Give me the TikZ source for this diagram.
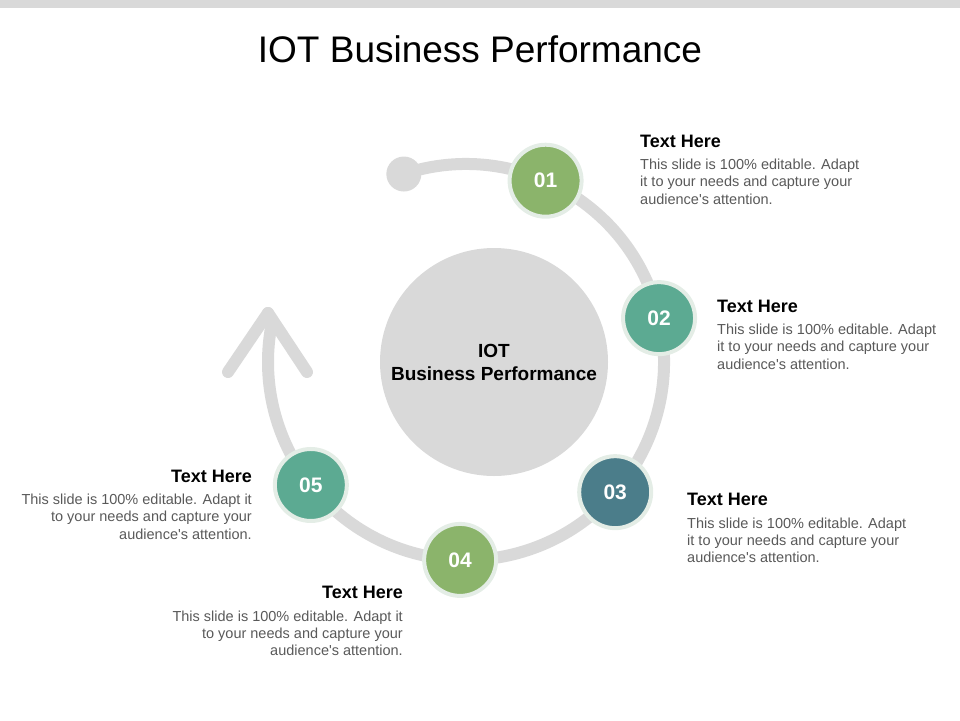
\documentclass[tikz,border=0pt]{standalone}
\usepackage{fontspec}
\setmainfont{Liberation Sans}
\usetikzlibrary{positioning}
\definecolor{ringgray}{HTML}{D9D9D9}
\definecolor{leafgreen}{HTML}{8BB46B}
\definecolor{seateal}{HTML}{5CAA92}
\definecolor{slateteal}{HTML}{4B7D8A}
\definecolor{rimcol}{HTML}{E4EDE6}
\definecolor{bodygray}{HTML}{595959}
\tikzset{
  ring/.style={draw=ringgray, line width=12pt, line cap=round, line join=round},
  stepnode/.style={circle, minimum size=72pt, inner sep=0pt, draw=rimcol, line width=4pt,
    text=white, font=\bfseries\fontsize{21}{25}\selectfont},
  headtext/.style={inner sep=0pt, font=\bfseries\fontsize{18}{22}\selectfont},
  bodytext/.style={inner sep=0pt, text=bodygray, font=\fontsize{14.5}{17.2}\selectfont}
}
\newcommand{\blurbL}{This slide is 100\% editable. Adapt\\it to your needs and capture your\\audience\textquotesingle s attention.}
\newcommand{\blurbR}{This slide is 100\% editable. Adapt it\\to your needs and capture your\\audience\textquotesingle s attention.}
\begin{document}
\begin{tikzpicture}[x=1pt,y=1pt]
\useasboundingbox (0,0) rectangle (960,-720);
\fill[ringgray] (0,0) rectangle (960,-8);
\node[anchor=base, font=\fontsize{37}{44}\selectfont] (title) at (480,-62) {IOT Business Performance};
% hub and ring
\coordinate (hub) at (466,-362);
\node[circle, fill=ringgray, minimum size=228pt, align=center, font=\bfseries\fontsize{19}{23}\selectfont]
  (core) at (494,-362) {IOT\\Business Performance};
\node[circle, fill=ringgray, minimum size=35pt, inner sep=0pt] (start) at ([shift={(108.3:198)}]hub) {};
\coordinate (tip) at (268,-313);
\coordinate (armL) at ([shift={(-40,-59)}]tip);
\coordinate (armR) at ([shift={(39,-59)}]tip);
\draw[ring] (start.center) arc[start angle=108.3, end angle=-190, radius=198pt] -- (tip);
\draw[ring] (armL) -- (tip) -- (armR);
% steps
\node[stepnode, fill=leafgreen] (s1) at ([shift={(66.3:198)}]hub) {01};
\node[stepnode, fill=seateal] (s2) at ([shift={(12.8:198)}]hub) {02};
\node[stepnode, fill=slateteal] (s3) at ([shift={(-41.1:198)}]hub) {03};
\node[stepnode, fill=leafgreen] (s4) at ([shift={(-91.7:198)}]hub) {04};
\node[stepnode, fill=seateal] (s5) at ([shift={(-141.6:198)}]hub) {05};
% texts
\node[headtext, anchor=base west] (h1) at (640,-147) {Text Here};
\node[bodytext, align=left, below right=11.7pt and 0pt of h1.south west] (b1) {\blurbL};
\node[headtext, anchor=base west] (h2) at (717,-312) {Text Here};
\node[bodytext, align=left, below right=11.7pt and 0pt of h2.south west] (b2) {\blurbL};
\node[headtext, anchor=base west] (h3) at (687,-505.5) {Text Here};
\node[bodytext, align=left, below right=11.7pt and 0pt of h3.south west] (b3) {\blurbL};
\node[headtext, anchor=base east] (h4) at (403,-598.5) {Text Here};
\node[bodytext, align=right, below left=11.7pt and 0pt of h4.south east] (b4) {\blurbR};
\node[headtext, anchor=base east] (h5) at (252,-482) {Text Here};
\node[bodytext, align=right, below left=11.7pt and 0pt of h5.south east] (b5) {\blurbR};
\end{tikzpicture}
\end{document}
